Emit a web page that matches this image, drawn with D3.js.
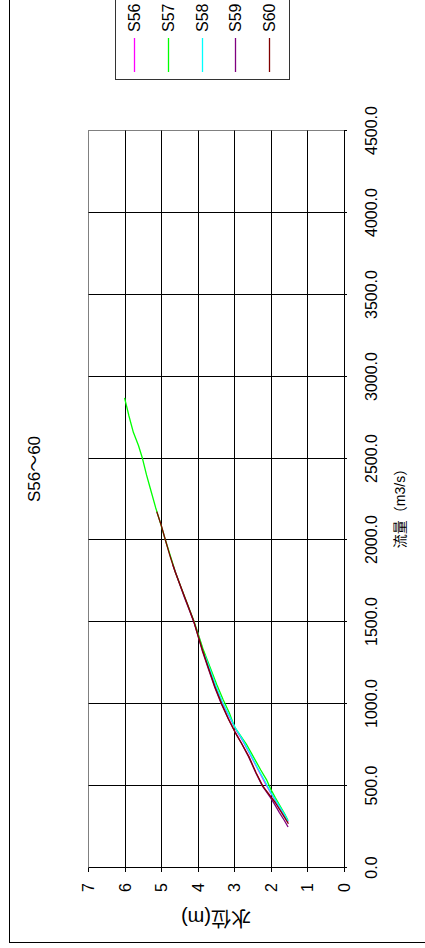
<!DOCTYPE html>
<html>
<head>
<meta charset="utf-8">
<script src="https://cdn.jsdelivr.net/npm/d3@7"></script>
<style>
html, body { margin: 0; padding: 0; background: #fff; }
svg { display: block; }
text { font-family: "Liberation Sans", Arial, "Noto Sans CJK JP", sans-serif; fill: #000; }
</style>
</head>
<body>
<div id="chart"></div>
<script>
(function() {
'use strict';

var W = 425, H = 948;

var flowTicks = [0, 500, 1000, 1500, 2000, 2500, 3000, 3500, 4000, 4500];
var levelTicks = [0, 1, 2, 3, 4, 5, 6, 7];
var seriesNames = ['S56', 'S57', 'S58', 'S59', 'S60'];

// [flow (m3/s), level (m)]
var s56 = [[280,1.53],[320,1.62],[370,1.76],[420,1.90],[460,2.01],[520,2.16],[600,2.35],[690,2.56],
    [780,2.78],[850,2.97],[930,3.15],[1010,3.33],[1110,3.51],[1220,3.68],[1340,3.87],[1450,4.02],[1560,4.20]];
var s57 = [[290,1.53],[330,1.62],[380,1.75],[430,1.88],[480,2.00],[540,2.12],[600,2.28],[680,2.48],
    [760,2.68],[860,2.99],[950,3.14],[1030,3.31],[1120,3.48],[1230,3.67],[1340,3.86],[1500,4.09],
    [1650,4.35],[1800,4.60],[2000,4.88],[2100,5.01],[2200,5.15],[2320,5.30],[2400,5.40],[2500,5.51],
    [2580,5.62],[2660,5.76],[2760,5.88],[2870,6.00]];
var s58 = [[285,1.53],[325,1.62],[375,1.76],[425,1.90],[465,2.01],[525,2.15],[610,2.36],[700,2.57],
    [790,2.79],[855,2.97],[935,3.15],[1015,3.33],[1110,3.50],[1210,3.66],[1300,3.81]];
var s59 = [[250,1.53],[290,1.63],[340,1.77],[390,1.90],[430,2.01],[500,2.23],[580,2.41],[680,2.61],
    [760,2.80],[830,2.98],[910,3.16],[1000,3.35],[1100,3.53],[1210,3.70],[1330,3.88],[1500,4.10],
    [1650,4.36],[1850,4.68]];
var s60 = [[270,1.52],[300,1.60],[350,1.74],[400,1.88],[435,2.00],[500,2.22],[580,2.40],[680,2.60],
    [760,2.80],[830,2.98],[910,3.16],[1000,3.34],[1100,3.52],[1210,3.69],[1330,3.87],[1410,3.98],
    [1500,4.10],[1610,4.28],[1710,4.45],[1810,4.62],[1900,4.75],[2000,4.88],[2094,5.00],[2176,5.12]];

var seriesData = [s56, s57, s58, s59, s60];
var seriesColors = ['#ff00ff', '#00ff00', '#00ffff', '#800080', '#800000'];

var svg = d3.select('#chart').append('svg').attr('width', W).attr('height', H);
svg.append('rect').attr('width', W).attr('height', H).attr('fill', '#fff');

// the chart is laid out upright and then turned a quarter turn to the left
var g = svg.append('g').attr('transform', 'translate(0,' + H + ') rotate(-90)');

// chart area frame (runs off the page at top and right)
g.append('rect')
    .attr('x', 5.5).attr('y', 9.5).attr('width', 1000).attr('height', 460)
    .attr('fill', 'none').attr('stroke', '#000');

var plot = {left: 80, right: 817, top: 88, bottom: 344};

var x = d3.scaleLinear().domain([0, 4500]).range([plot.left, plot.right]);
var y = d3.scaleLinear().domain([0, 7]).range([plot.bottom, plot.top]);
var xr = x.copy().interpolate(d3.interpolateRound);
var yr = y.copy().interpolate(d3.interpolateRound);

// plot area
g.append('rect')
    .attr('x', plot.left + 0.5).attr('y', plot.top + 0.5)
    .attr('width', plot.right - plot.left).attr('height', plot.bottom - plot.top)
    .attr('fill', '#fff').attr('stroke', '#808080');

var grid = g.append('g').attr('stroke', '#000').attr('stroke-width', 1);
grid.selectAll('line.gx').data(flowTicks.slice(1, -1)).join('line')
    .attr('class', 'gx')
    .attr('x1', function (d) { return xr(d) + 0.5; })
    .attr('x2', function (d) { return xr(d) + 0.5; })
    .attr('y1', plot.top + 0.5).attr('y2', plot.bottom + 0.5);
grid.selectAll('line.gy').data(levelTicks.slice(1, -1)).join('line')
    .attr('class', 'gy')
    .attr('x1', plot.left + 0.5).attr('x2', plot.right + 0.5)
    .attr('y1', function (d) { return yr(d) + 0.5; })
    .attr('y2', function (d) { return yr(d) + 0.5; });

// series
var line = d3.line()
    .x(function (d) { return x(d[0]); })
    .y(function (d) { return y(d[1]); });

g.append('g').selectAll('path').data(seriesData).join('path')
    .attr('d', line)
    .attr('fill', 'none')
    .attr('stroke', function (d, i) { return seriesColors[i]; })
    .attr('stroke-width', 1.3)
    .attr('stroke-linejoin', 'round');

// axes
var xAxis = g.append('g')
    .attr('transform', 'translate(0,' + plot.bottom + ')')
    .call(d3.axisBottom(xr).tickValues(flowTicks).tickFormat(d3.format('.1f'))
        .tickSize(3).tickSizeOuter(0).tickPadding(19));
var yAxis = g.append('g')
    .attr('transform', 'translate(' + plot.left + ',0)')
    .call(d3.axisLeft(yr).tickValues(levelTicks).tickFormat(d3.format('d'))
        .tickSize(4).tickSizeOuter(0).tickPadding(11));

[xAxis, yAxis].forEach(function (a) {
    a.attr('font-family', null).attr('font-size', 16);
    a.select('.domain').attr('stroke', '#000');
    a.selectAll('.tick line').attr('stroke', '#000');
});

// titles
g.append('text')
    .attr('x', 479).attr('y', 34).attr('dy', '0.35em')
    .attr('text-anchor', 'middle').attr('font-size', 17)
    .text('S56～60');

g.append('text')
    .attr('x', 443).attr('y', 400).attr('dy', '0.35em')
    .attr('text-anchor', 'middle').attr('font-size', 14)
    .text('流量（m3/s）');

g.append('text')
    .attr('transform', 'translate(30.5,' + ((plot.top + plot.bottom) / 2) + ') rotate(-90)')
    .attr('dy', '0.35em')
    .attr('text-anchor', 'middle').attr('font-size', 20)
    .text('水位(m)');

// legend
var legend = g.append('g');
legend.append('rect')
    .attr('x', 868.5).attr('y', 115.5).attr('width', 120).attr('height', 174)
    .attr('fill', '#fff').attr('stroke', '#333');

var item = legend.selectAll('g.item').data(seriesNames).join('g')
    .attr('class', 'item')
    .attr('transform', function (d, i) { return 'translate(0,' + (134 + Math.round(i * 33.8)) + ')'; });
item.append('line')
    .attr('x1', 876).attr('x2', 910).attr('y1', 0.5).attr('y2', 0.5)
    .attr('stroke', function (d, i) { return seriesColors[i]; })
    .attr('stroke-width', 1.3);
item.append('text')
    .attr('x', 916).attr('y', 0).attr('dy', '0.35em')
    .attr('font-size', 16)
    .text(function (d) { return d; });

})();
</script>
</body>
</html>
